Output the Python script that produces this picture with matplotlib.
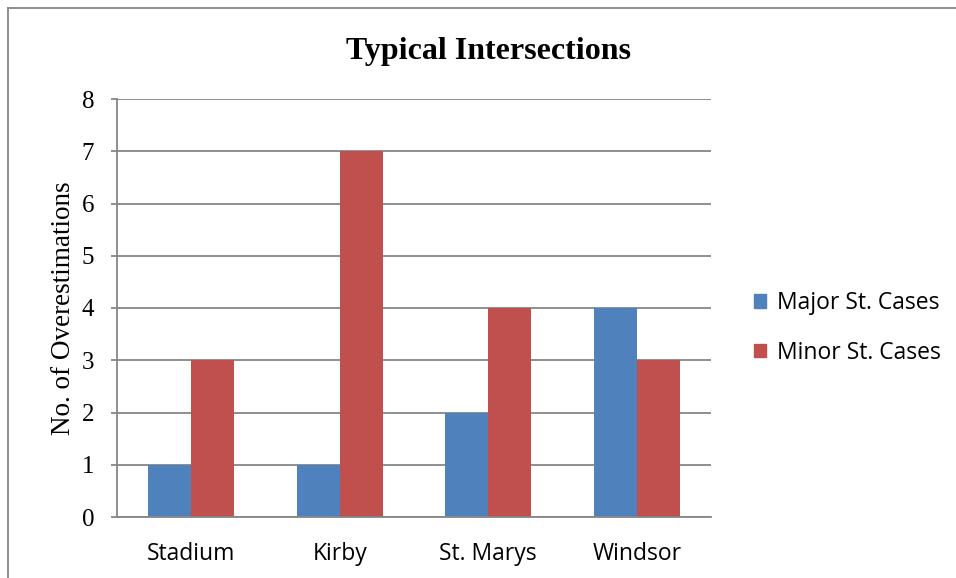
import matplotlib
matplotlib.use('Agg')
import matplotlib.pyplot as plt
from matplotlib.patches import Patch
from matplotlib.lines import Line2D
import numpy as np

# Chart data
categories = ['Stadium', 'Kirby', 'St. Marys', 'Windsor']
major_cases = [1, 1, 2, 4]
minor_cases = [3, 7, 4, 3]
series_names = ['Major St. Cases', 'Minor St. Cases']
y_ticks = [0, 1, 2, 3, 4, 5, 6, 7, 8]

BLUE = '#4F81BD'
RED = '#C0504D'
GREY = '#868686'
SERIF = 'Liberation Serif'
SANS = 'Open Sans'


def main():
    fig = plt.figure(figsize=(9.56, 5.78), dpi=100)
    ax = fig.add_axes([117 / 956, 1 - 517 / 578, (711 - 117) / 956, (517 - 99) / 578])

    x = np.arange(len(categories))
    w = 0.29
    ax.bar(x - w / 2, major_cases, width=w, color=BLUE, zorder=3)
    ax.bar(x + w / 2, minor_cases, width=w, color=RED, zorder=3)

    ax.set_xlim(-0.5, len(categories) - 0.5)
    ax.set_ylim(0, 8)
    ax.set_yticks(y_ticks)
    ax.set_yticklabels([str(t) for t in y_ticks], fontfamily=SERIF, fontsize=18)
    ax.set_xticks(x)
    ax.set_xticklabels(categories, fontfamily=SANS, fontsize=16.5)
    ax.tick_params(axis='x', length=0, pad=18)
    ax.tick_params(axis='y', length=4.5, width=1.3, color=GREY, pad=12)

    ax.yaxis.grid(True, color=GREY, linewidth=1.3, zorder=0)
    for side in ['top', 'right']:
        ax.spines[side].set_visible(False)
    for side in ['left', 'bottom']:
        ax.spines[side].set_color(GREY)
        ax.spines[side].set_linewidth(1.3)
        ax.spines[side].set_zorder(4)

    ax.set_ylabel('No. of Overestimations', fontfamily=SERIF, fontsize=19.5, labelpad=4)

    fig.text(489 / 956, 1 - 52 / 578, 'Typical Intersections', fontfamily=SERIF,
             fontsize=23, fontweight='bold', ha='center', va='center')

    handles = [Patch(color=BLUE), Patch(color=RED)]
    fig.legend(handles, series_names, loc='center left', bbox_to_anchor=(733 / 956, 1 - 328 / 578),
               frameon=False, prop={'family': SANS, 'size': 16.5}, handlelength=0.55,
               handleheight=0.55, handletextpad=0.45, labelspacing=1.1)

    # Outer frame (top and left edges only)
    fig.add_artist(Line2D([8 / 956, 8 / 956], [0, 1 - 8 / 578], color=GREY, lw=1.3,
                          transform=fig.transFigure))
    fig.add_artist(Line2D([8 / 956, 1], [1 - 8 / 578, 1 - 8 / 578], color=GREY, lw=1.3,
                          transform=fig.transFigure))

    fig.savefig('out.png', dpi=100)


if __name__ == '__main__':
    main()
